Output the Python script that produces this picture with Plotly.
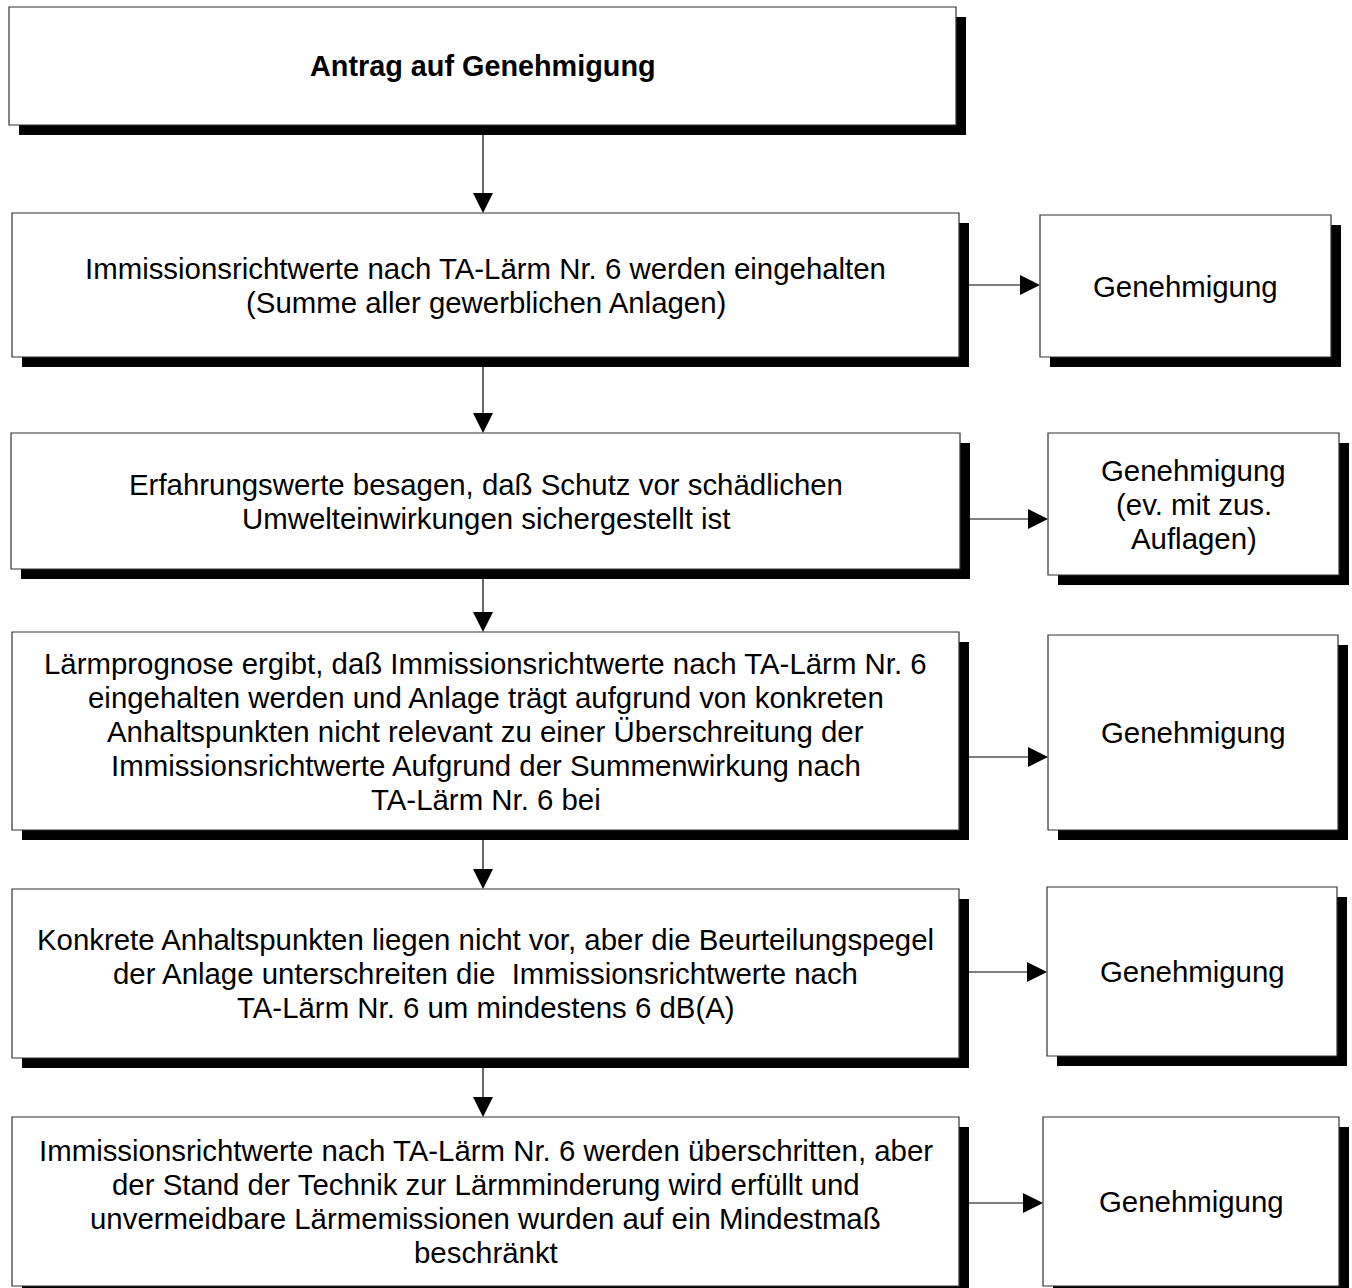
import plotly.graph_objects as go

# ---- content ----
title_text = "Antrag auf Genehmigung"
left_texts = [
    ["Immissionsrichtwerte nach TA-Lärm Nr. 6 werden eingehalten",
     "(Summe aller gewerblichen Anlagen)"],
    ["Erfahrungswerte besagen, daß Schutz vor schädlichen",
     "Umwelteinwirkungen sichergestellt ist"],
    ["Lärmprognose ergibt, daß Immissionsrichtwerte nach TA-Lärm Nr. 6",
     "eingehalten werden und Anlage trägt aufgrund von konkreten",
     "Anhaltspunkten nicht relevant zu einer Überschreitung der",
     "Immissionsrichtwerte Aufgrund der Summenwirkung nach",
     "TA-Lärm Nr. 6 bei"],
    ["Konkrete Anhaltspunkten liegen nicht vor, aber die Beurteilungspegel",
     "der Anlage unterschreiten die  Immissionsrichtwerte nach",
     "TA-Lärm Nr. 6 um mindestens 6 dB(A)"],
    ["Immissionsrichtwerte nach TA-Lärm Nr. 6 werden überschritten, aber",
     "der Stand der Technik zur Lärmminderung wird erfüllt und",
     "unvermeidbare Lärmemissionen wurden auf ein Mindestmaß",
     "beschränkt"],
]
right_texts = [
    ["Genehmigung"],
    ["Genehmigung", "(ev. mit zus.", "Auflagen)"],
    ["Genehmigung"],
    ["Genehmigung"],
    ["Genehmigung"],
]

# ---- layout geometry (pixels, y downward) ----
W, H = 1352, 1288
title_box = (9, 956, 7, 125)
left_boxes = [(12, 959, 213, 357), (11, 960, 433, 569), (12, 959, 632, 830),
              (12, 959, 889, 1058), (12, 959, 1117, 1286)]
right_boxes = [(1040, 1331, 215, 357), (1048, 1339, 433, 575), (1048, 1338, 635, 830),
               (1047, 1337, 887, 1056), (1043, 1339, 1117, 1286)]
h_arrow_y = [285, 519, 757, 972, 1203]
v_arrow_x = 483
SHADOW = 10
HEAD_L, HEAD_W = 20, 10
LINE_GAP = 34
FONT = "Arial, Liberation Sans, sans-serif"
FS = 29.4
FS_BOLD = 28.8

shapes = []
annotations = []


def add_box(b):
    x0, x1, y0, y1 = b
    shapes.append(dict(type="rect", x0=x0 + SHADOW, x1=x1 + SHADOW, y0=y0 + SHADOW, y1=y1 + SHADOW,
                       fillcolor="black", line=dict(width=0), layer="above"))
    shapes.append(dict(type="rect", x0=x0, x1=x1, y0=y0, y1=y1,
                       fillcolor="white", line=dict(color="#333333", width=1.2), layer="above"))


def add_text(b, lines, bold=False):
    x0, x1, y0, y1 = b
    cx, cy = (x0 + x1) / 2, (y0 + y1) / 2
    n = len(lines)
    for i, t in enumerate(lines):
        y = cy + (i - (n - 1) / 2) * LINE_GAP
        annotations.append(dict(x=cx, y=y, xref="x", yref="y", text=f"<b>{t}</b>" if bold else t,
                                showarrow=False, xanchor="center", yanchor="middle",
                                font=dict(family=FONT, size=FS_BOLD if bold else FS, color="black")))


def v_arrow(x, ya, yb):
    shapes.append(dict(type="line", x0=x, x1=x, y0=ya, y1=yb - HEAD_L,
                       line=dict(color="black", width=1.2), layer="above"))
    shapes.append(dict(type="path", path=f"M {x - HEAD_W} {yb - HEAD_L} L {x + HEAD_W} {yb - HEAD_L} L {x} {yb} Z",
                       fillcolor="black", line=dict(width=0), layer="above"))


def h_arrow(y, xa, xb):
    shapes.append(dict(type="line", x0=xa, x1=xb - HEAD_L, y0=y, y1=y,
                       line=dict(color="black", width=1.2), layer="above"))
    shapes.append(dict(type="path", path=f"M {xb - HEAD_L} {y - HEAD_W} L {xb - HEAD_L} {y + HEAD_W} L {xb} {y} Z",
                       fillcolor="black", line=dict(width=0), layer="above"))


# vertical arrows
all_left = [title_box] + left_boxes
for a, b in zip(all_left[:-1], all_left[1:]):
    v_arrow(v_arrow_x, a[3], b[2])
# horizontal arrows
for lb, rb, y in zip(left_boxes, right_boxes, h_arrow_y):
    h_arrow(y, lb[1] + SHADOW, rb[0])

add_box(title_box)
add_text(title_box, [title_text], bold=True)
for b, t in zip(left_boxes, left_texts):
    add_box(b)
    add_text(b, t)
for b, t in zip(right_boxes, right_texts):
    add_box(b)
    add_text(b, t)

fig = go.Figure()
fig.add_trace(go.Scatter(x=[0, W], y=[0, H], mode="markers", marker=dict(opacity=0),
                         hoverinfo="skip", showlegend=False))
fig.update_layout(
    width=W, height=H, margin=dict(l=0, r=0, t=0, b=0),
    paper_bgcolor="white", plot_bgcolor="white",
    xaxis=dict(range=[0, W], visible=False, fixedrange=True),
    yaxis=dict(range=[H, 0], visible=False, fixedrange=True),
    shapes=shapes, annotations=annotations, showlegend=False,
)
fig.write_html("out.html", config={"displayModeBar": False},
               post_script="document.body.style.margin='0';document.body.style.overflow='hidden';")
